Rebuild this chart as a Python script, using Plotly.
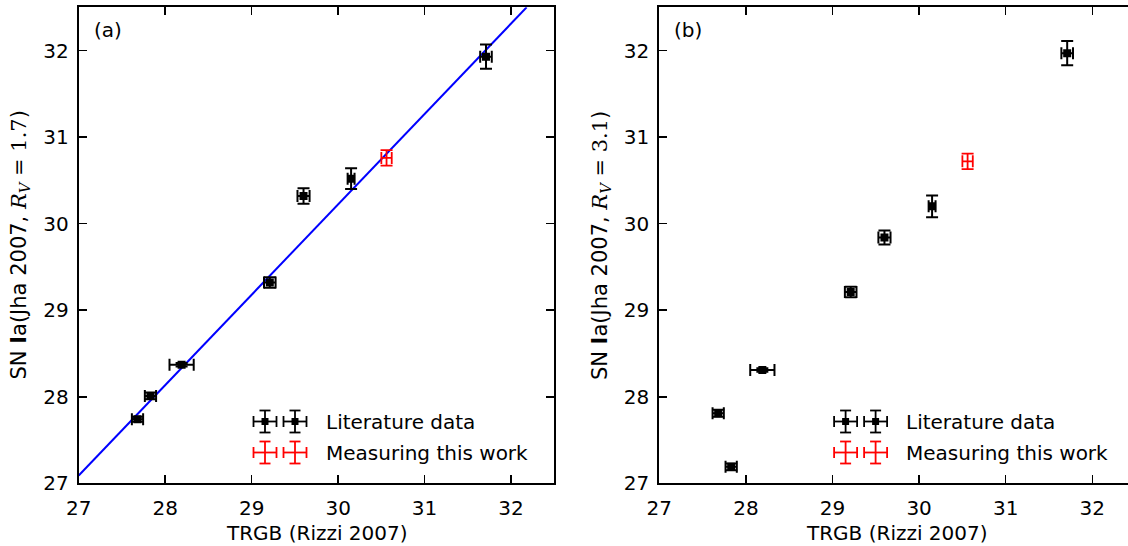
import plotly.graph_objects as go

# ---------------- data ----------------
trgb_lit = [27.68, 27.83, 28.19, 29.21, 29.60, 30.15, 31.71]
trgb_lit_err = [0.065, 0.065, 0.14, 0.067, 0.07, 0.04, 0.067]
sn_a_lit = [27.74, 28.01, 28.37, 29.32, 30.32, 30.52, 31.93]
sn_a_lit_err = [0.03, 0.04, 0.02, 0.06, 0.09, 0.12, 0.14]
sn_b_lit = [27.81, 27.19, 28.31, 29.21, 29.84, 30.20, 31.97]
sn_b_lit_err = [0.04, 0.04, 0.02, 0.06, 0.08, 0.125, 0.14]

trgb_this = [30.56]
trgb_this_err = [0.06]
sn_a_this = [30.76]
sn_a_this_err = [0.09]
sn_b_this = [30.72]
sn_b_this_err = [0.09]

fit_x = [27.0, 32.18]
fit_y = [27.09, 32.5]

tick_vals = [27, 28, 29, 30, 31, 32]
legend_labels = ["Literature data", "Measuring this work"]

# ---------------- layout helpers ----------------
W, H = 1128, 546
FONT = "DejaVu Sans"
AX_A = (78.7, 554.3)
AX_B = (659.3, 1128.0)
AX_Y = (7.3, 483.3)
UNIT = 86.6  # px per data unit


def px(x):
    return x / W


def py(y):
    return 1 - y / H


fig = go.Figure()

err_style = dict(color="black", thickness=2, width=6)
red_err = dict(color="red", thickness=1.8, width=6)

# Panel (a)
fig.add_trace(go.Scatter(x=fit_x, y=fit_y, mode="lines",
                         line=dict(color="#0000ff", width=2),
                         xaxis="x", yaxis="y", showlegend=False, hoverinfo="skip"))
fig.add_trace(go.Scatter(x=trgb_lit, y=sn_a_lit, mode="markers",
                         marker=dict(symbol="square", size=8, color="black"),
                         error_x=dict(type="data", array=trgb_lit_err, **err_style),
                         error_y=dict(type="data", array=sn_a_lit_err, **err_style),
                         xaxis="x", yaxis="y", showlegend=False))
fig.add_trace(go.Scatter(x=trgb_this, y=sn_a_this, mode="markers",
                         marker=dict(size=1, color="red", opacity=0),
                         error_x=dict(type="data", array=trgb_this_err, **red_err),
                         error_y=dict(type="data", array=sn_a_this_err, **red_err),
                         xaxis="x", yaxis="y", showlegend=False))

# Panel (b)
fig.add_trace(go.Scatter(x=trgb_lit, y=sn_b_lit, mode="markers",
                         marker=dict(symbol="square", size=8, color="black"),
                         error_x=dict(type="data", array=trgb_lit_err, **err_style),
                         error_y=dict(type="data", array=sn_b_lit_err, **err_style),
                         xaxis="x2", yaxis="y2", showlegend=False))
fig.add_trace(go.Scatter(x=trgb_this, y=sn_b_this, mode="markers",
                         marker=dict(size=1, color="red", opacity=0),
                         error_x=dict(type="data", array=trgb_this_err, **red_err),
                         error_y=dict(type="data", array=sn_b_this_err, **red_err),
                         xaxis="x2", yaxis="y2", showlegend=False))

common_axis = dict(
    showgrid=False, zeroline=False, showline=True, linecolor="black", linewidth=2,
    ticks="inside", ticklen=8, tickwidth=1.5, tickcolor="black",
    tickfont=dict(family=FONT, size=20, color="black"),
    tickvals=tick_vals, automargin=False,
)

x_range_b = [27, 27 + (AX_B[1] - AX_B[0]) / UNIT]

fig.update_layout(
    width=W, height=H,
    margin=dict(l=0, r=0, t=0, b=0),
    paper_bgcolor="white", plot_bgcolor="white",
    font=dict(family=FONT, size=20, color="black"),
    xaxis=dict(domain=[px(AX_A[0]), px(AX_A[1])], range=[27, 32.5], anchor="y",
               mirror="ticks", ticklabelstandoff=6, **common_axis),
    yaxis=dict(domain=[py(AX_Y[1]), py(AX_Y[0])], range=[27, 32.5], anchor="x",
               mirror="ticks", ticklabelstandoff=4, **common_axis),
    xaxis2=dict(domain=[px(AX_B[0]), 1.0], range=x_range_b, anchor="y2",
                mirror="ticks", ticklabelstandoff=6, **common_axis),
    yaxis2=dict(domain=[py(AX_Y[1]), py(AX_Y[0])], range=[27, 32.5], anchor="x2",
                mirror=False, ticklabelstandoff=4, **common_axis),
)

# ---------------- text annotations ----------------
ytitle_a = ('SN <b>I</b>a(Jha 2007, <span style="font-family:DejaVu Serif"><i>R</i>'
            '<sub><i>V</i></sub> = 1.7</span>)')
ytitle_b = ('SN <b>I</b>a(Jha 2007, <span style="font-family:DejaVu Serif"><i>R</i>'
            '<sub><i>V</i></sub> = 3.1</span>)')

annotations = []
for x0, x1, ytitle, tag, tag_x in [(AX_A[0], AX_A[1], ytitle_a, "(a)", 108),
                                   (AX_B[0], AX_B[0] + 5.5 * UNIT, ytitle_b, "(b)", 688)]:
    annotations.append(dict(text="TRGB (Rizzi 2007)", x=px((x0 + x1) / 2), y=py(532.5),
                            xref="paper", yref="paper", showarrow=False,
                            xanchor="center", yanchor="middle",
                            font=dict(family=FONT, size=20, color="black")))
    annotations.append(dict(text=ytitle, x=px(x0 - 58.5), y=py((AX_Y[0] + AX_Y[1]) / 2),
                            xref="paper", yref="paper", showarrow=False, textangle=-90,
                            xanchor="center", yanchor="middle",
                            font=dict(family=FONT, size=21, color="black")))
    annotations.append(dict(text=tag, x=px(tag_x), y=py(29.5), xref="paper", yref="paper",
                            showarrow=False, xanchor="center", yanchor="middle",
                            font=dict(family=FONT, size=20, color="black")))

# ---------------- manual legend (matplotlib-style, two glyphs per entry) ----------------
shapes = []


def seg(x0, y0, x1, y1, color):
    shapes.append(dict(type="line", xref="paper", yref="paper",
                       x0=px(x0), y0=py(y0), x1=px(x1), y1=py(y1),
                       line=dict(color=color, width=1.8)))


def glyph(cx, cy, color, marker):
    hx, hy, cap = 11.5, 11.0, 5.5
    seg(cx - hx, cy, cx + hx, cy, color)
    seg(cx, cy - hy, cx, cy + hy, color)
    seg(cx - hx, cy - cap, cx - hx, cy + cap, color)
    seg(cx + hx, cy - cap, cx + hx, cy + cap, color)
    seg(cx - cap, cy - hy, cx + cap, cy - hy, color)
    seg(cx - cap, cy + hy, cx + cap, cy + hy, color)
    if marker:
        shapes.append(dict(type="rect", xref="paper", yref="paper",
                           x0=px(cx - 3.5), x1=px(cx + 3.5), y0=py(cy + 3.5), y1=py(cy - 3.5),
                           fillcolor="black", line=dict(color="black", width=0)))


for off in [0.0, AX_B[0] - AX_A[0]]:
    for row, (label, color, marker) in enumerate(zip(legend_labels, ["black", "red"], [True, False])):
        cy = 421.5 + row * 31.0
        glyph(265 + off, cy, color, marker)
        glyph(295 + off, cy, color, marker)
        annotations.append(dict(text=label, x=px(323.5 + off), y=py(cy), xref="paper", yref="paper",
                                showarrow=False, xanchor="left", yanchor="middle",
                                font=dict(family=FONT, size=20, color="black")))

fig.update_layout(annotations=annotations, shapes=shapes)

fig.write_html("out.html",
               config={"displayModeBar": False, "staticPlot": True},
               post_script="document.body.style.margin='0';document.body.style.overflow='hidden';")
